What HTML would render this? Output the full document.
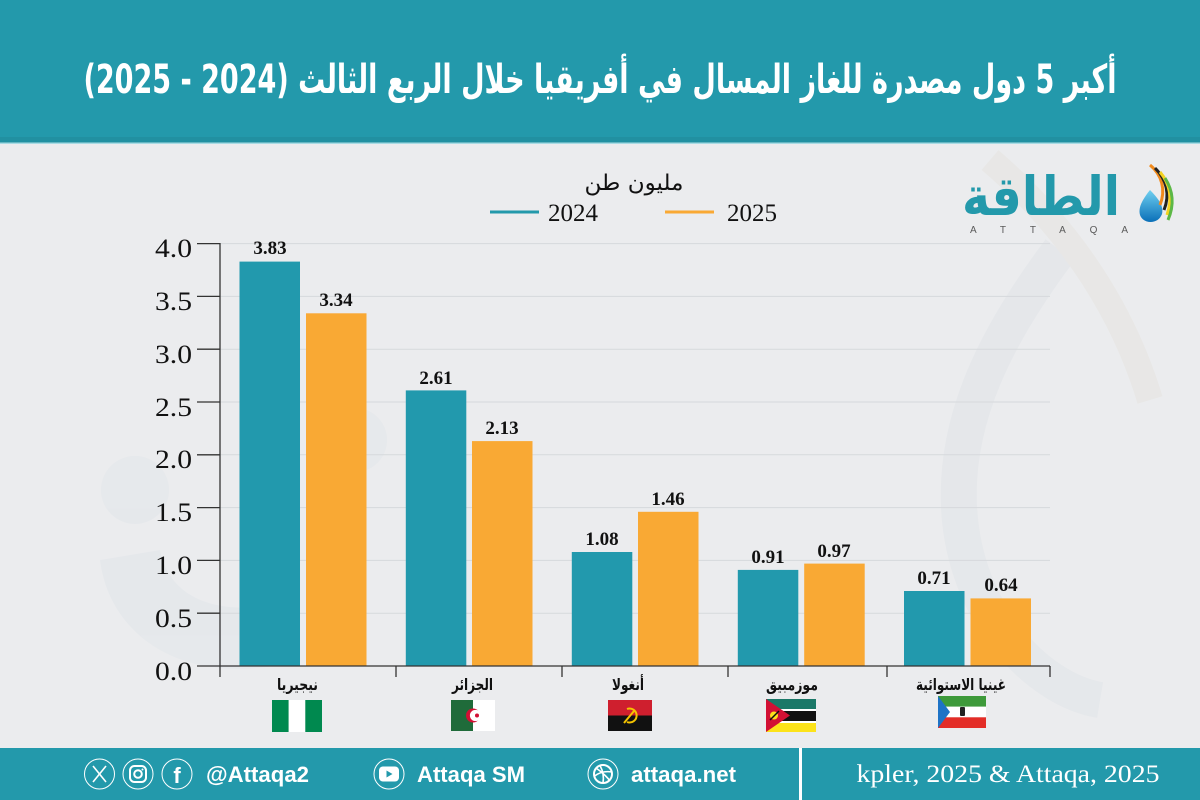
<!DOCTYPE html>
<html>
<head>
<meta charset="utf-8">
<style>
html,body{margin:0;padding:0;background:#ebecee;width:1200px;height:800px;overflow:hidden;}
svg{display:block;}
</style>
</head>
<body>
<svg width="1200" height="800" viewBox="0 0 1200 800" xmlns="http://www.w3.org/2000/svg" overflow="hidden">
  <defs>
    <linearGradient id="drop" x1="0" y1="0" x2="0" y2="1">
      <stop offset="0" stop-color="#6fd0f0"/>
      <stop offset="1" stop-color="#0a6fb8"/>
    </linearGradient>
  </defs>
  <!-- background -->
  <rect x="0" y="0" width="1200" height="800" fill="#ebecee"/>

  <!-- watermark (faint shapes) -->
  <g opacity="0.5">
    <circle cx="135" cy="490" r="34" fill="#e1e5ea"/>
    <circle cx="355" cy="440" r="32" fill="#e1e5ea"/>
    <path d="M100 560 C 110 640, 190 690, 300 660 L 300 600 C 220 620, 170 600, 160 550 Z" fill="#e1e5ea"/>
    <path d="M1060 250 C 1000 330, 950 420, 960 520 C 970 620, 1040 690, 1100 700" fill="none" stroke="#e0e4e8" stroke-width="36"/>
    <path d="M990 160 C 1060 220, 1120 300, 1150 400" fill="none" stroke="#e6e4df" stroke-width="26"/>
  </g>

  <!-- title bar -->
  <rect x="0" y="0" width="1200" height="137" fill="#2399ab"/>
  <rect x="0" y="137" width="1200" height="5.5" fill="#2190a1"/>
  <rect x="0" y="142.5" width="1200" height="1.5" fill="#a9dbe4"/>
  <text x="600" y="93" font-family="DejaVu Sans, sans-serif" font-weight="bold" font-size="40" fill="#ffffff" direction="rtl" text-anchor="middle" textLength="1033" lengthAdjust="spacingAndGlyphs">أكبر 5 دول مصدرة للغاز المسال في أفريقيا خلال الربع الثالث (2024 - 2025)</text>

  <!-- logo -->
  <text x="1041" y="215" font-family="DejaVu Sans, sans-serif" font-weight="bold" font-size="54" fill="#2399ab" direction="rtl" text-anchor="middle" textLength="158" lengthAdjust="spacingAndGlyphs">الطاقة</text>
  <text x="970" y="233" font-family="Liberation Sans, sans-serif" font-size="10" fill="#5a5a5a" textLength="158" lengthAdjust="spacing">ATTAQA</text>
  <g>
    <path d="M1150 190 C 1142 200, 1138 208, 1140 215 C 1143 224, 1158 225, 1162 214 C 1164 206, 1158 198, 1150 190 Z" fill="url(#drop)"/>
    <path d="M1150 165 C 1162 175, 1166 190, 1160 205" fill="none" stroke="#f08a1c" stroke-width="3"/>
    <path d="M1155 168 C 1167 180, 1170 195, 1164 210" fill="none" stroke="#222" stroke-width="3"/>
    <path d="M1160 172 C 1171 185, 1172 200, 1167 215" fill="none" stroke="#f4d321" stroke-width="3"/>
    <path d="M1165 178 C 1174 192, 1174 206, 1168 220" fill="none" stroke="#5cb846" stroke-width="3"/>
  </g>

  <!-- legend -->
  <text x="634" y="190" font-family="DejaVu Sans, sans-serif" font-size="22" fill="#111" direction="rtl" text-anchor="middle" textLength="99" lengthAdjust="spacingAndGlyphs">مليون طن</text>
  <line x1="490" y1="212" x2="539" y2="212" stroke="#2399ab" stroke-width="3"/>
  <text x="548" y="221" font-family="Liberation Serif, serif" font-size="25" fill="#111">2024</text>
  <line x1="665" y1="212" x2="714" y2="212" stroke="#f9a934" stroke-width="3"/>
  <text x="727" y="221" font-family="Liberation Serif, serif" font-size="25" fill="#111">2025</text>

  <!-- gridlines -->
  <g stroke="#d6d9dc" stroke-width="1">
    <line x1="220" y1="243.6" x2="1050" y2="243.6"/>
    <line x1="220" y1="296.4" x2="1050" y2="296.4"/>
    <line x1="220" y1="349.2" x2="1050" y2="349.2"/>
    <line x1="220" y1="402" x2="1050" y2="402"/>
    <line x1="220" y1="454.8" x2="1050" y2="454.8"/>
    <line x1="220" y1="507.6" x2="1050" y2="507.6"/>
    <line x1="220" y1="560.4" x2="1050" y2="560.4"/>
    <line x1="220" y1="613.2" x2="1050" y2="613.2"/>
  </g>

  <!-- bars -->
  <g>
    <rect x="239.5" y="261.6" width="60.5" height="404.4" fill="#2299ad"/>
    <rect x="306" y="313.3" width="60.5" height="352.7" fill="#f9a934"/>
    <rect x="405.8" y="390.4" width="60.5" height="275.6" fill="#2299ad"/>
    <rect x="472" y="441.1" width="60.5" height="224.9" fill="#f9a934"/>
    <rect x="571.8" y="552" width="60.5" height="114" fill="#2299ad"/>
    <rect x="638" y="511.8" width="60.5" height="154.2" fill="#f9a934"/>
    <rect x="737.8" y="569.9" width="60.5" height="96.1" fill="#2299ad"/>
    <rect x="804.2" y="563.6" width="60.5" height="102.4" fill="#f9a934"/>
    <rect x="904" y="591" width="60.5" height="75" fill="#2299ad"/>
    <rect x="970.5" y="598.4" width="60.5" height="67.6" fill="#f9a934"/>
  </g>

  <!-- value labels -->
  <g font-family="Liberation Serif, serif" font-weight="bold" font-size="19" fill="#111" text-anchor="middle">
    <text x="270" y="254">3.83</text>
    <text x="336" y="306">3.34</text>
    <text x="436" y="384">2.61</text>
    <text x="502" y="434">2.13</text>
    <text x="602" y="545">1.08</text>
    <text x="668" y="505">1.46</text>
    <text x="768" y="563">0.91</text>
    <text x="834" y="557">0.97</text>
    <text x="934" y="584">0.71</text>
    <text x="1001" y="591">0.64</text>
  </g>

  <!-- axes -->
  <g stroke="#333" stroke-width="1.3">
    <line x1="220" y1="243" x2="220" y2="677"/>
    <line x1="197" y1="666" x2="1050" y2="666"/>
    <line x1="197" y1="243.6" x2="220" y2="243.6"/>
    <line x1="197" y1="296.4" x2="220" y2="296.4"/>
    <line x1="197" y1="349.2" x2="220" y2="349.2"/>
    <line x1="197" y1="402" x2="220" y2="402"/>
    <line x1="197" y1="454.8" x2="220" y2="454.8"/>
    <line x1="197" y1="507.6" x2="220" y2="507.6"/>
    <line x1="197" y1="560.4" x2="220" y2="560.4"/>
    <line x1="197" y1="613.2" x2="220" y2="613.2"/>
    <line x1="396" y1="666" x2="396" y2="677"/>
    <line x1="562" y1="666" x2="562" y2="677"/>
    <line x1="728" y1="666" x2="728" y2="677"/>
    <line x1="887" y1="666" x2="887" y2="677"/>
    <line x1="1050" y1="666" x2="1050" y2="677"/>
  </g>
  <g font-family="Liberation Serif, serif" font-size="26" fill="#111" text-anchor="end">
    <text x="192" y="257" textLength="37" lengthAdjust="spacingAndGlyphs">4.0</text>
    <text x="192" y="310" textLength="37" lengthAdjust="spacingAndGlyphs">3.5</text>
    <text x="192" y="363" textLength="37" lengthAdjust="spacingAndGlyphs">3.0</text>
    <text x="192" y="416" textLength="37" lengthAdjust="spacingAndGlyphs">2.5</text>
    <text x="192" y="468" textLength="37" lengthAdjust="spacingAndGlyphs">2.0</text>
    <text x="192" y="521" textLength="37" lengthAdjust="spacingAndGlyphs">1.5</text>
    <text x="192" y="574" textLength="37" lengthAdjust="spacingAndGlyphs">1.0</text>
    <text x="192" y="627" textLength="37" lengthAdjust="spacingAndGlyphs">0.5</text>
    <text x="192" y="680" textLength="37" lengthAdjust="spacingAndGlyphs">0.0</text>
  </g>

  <!-- category labels -->
  <g font-family="DejaVu Sans, sans-serif" font-weight="bold" font-size="16" fill="#111" text-anchor="middle" direction="rtl">
    <text x="297.5" y="690" textLength="41" lengthAdjust="spacingAndGlyphs">نيجيريا</text>
    <text x="472.5" y="690" textLength="41" lengthAdjust="spacingAndGlyphs">الجزائر</text>
    <text x="628" y="690" textLength="32" lengthAdjust="spacingAndGlyphs">أنغولا</text>
    <text x="792" y="690" textLength="52" lengthAdjust="spacingAndGlyphs">موزمبيق</text>
    <text x="961" y="690" textLength="90" lengthAdjust="spacingAndGlyphs">غينيا الاستوائية</text>
  </g>

  <!-- flags -->
  <!-- Nigeria -->
  <rect x="272" y="700" width="16.7" height="32" fill="#00894f"/>
  <rect x="288.7" y="700" width="16.6" height="32" fill="#ffffff"/>
  <rect x="305.3" y="700" width="16.7" height="32" fill="#00894f"/>
  <!-- Algeria -->
  <rect x="451" y="700" width="22" height="31" fill="#1f6b3a"/>
  <rect x="473" y="700" width="22" height="31" fill="#ffffff"/>
  <circle cx="473" cy="715.5" r="7" fill="#d21034"/>
  <circle cx="475.5" cy="715.5" r="5.6" fill="#ffffff"/>
  <circle cx="477" cy="715.5" r="2" fill="#d21034"/>
  <!-- Angola -->
  <rect x="608" y="700" width="44" height="15.5" fill="#cf1f2e"/>
  <rect x="608" y="715.5" width="44" height="15.5" fill="#111111"/>
  <path d="M627 709 a7 7 0 1 1 0 13" fill="none" stroke="#f5c400" stroke-width="2"/>
  <line x1="624" y1="723" x2="634" y2="711" stroke="#f5c400" stroke-width="2"/>
  <!-- Mozambique -->
  <rect x="766" y="699" width="50" height="10" fill="#1b7868"/>
  <rect x="766" y="709" width="50" height="2" fill="#ffffff"/>
  <rect x="766" y="711" width="50" height="10" fill="#111111"/>
  <rect x="766" y="721" width="50" height="2" fill="#ffffff"/>
  <rect x="766" y="723" width="50" height="9" fill="#fce31a"/>
  <polygon points="766,699 790,715.5 766,732" fill="#d21034"/>
  <circle cx="774" cy="715.5" r="4" fill="#fce31a"/>
  <line x1="770" y1="720" x2="779" y2="711" stroke="#111" stroke-width="1.5"/>
  <!-- Equatorial Guinea -->
  <rect x="938" y="696" width="48" height="10.7" fill="#3e9a3a"/>
  <rect x="938" y="706.7" width="48" height="10.6" fill="#ffffff"/>
  <rect x="938" y="717.3" width="48" height="10.7" fill="#e32d27"/>
  <polygon points="938,696 950,712 938,728" fill="#1e73c6"/>
  <rect x="960" y="707" width="5" height="9" rx="1" fill="#222"/>

  <!-- footer -->
  <rect x="0" y="748" width="1200" height="52" fill="#2399ab"/>
  <rect x="799" y="748" width="3" height="52" fill="#ffffff"/>
  <text x="1008" y="782" font-family="Liberation Serif, serif" font-size="25" fill="#ffffff" text-anchor="middle" textLength="303" lengthAdjust="spacingAndGlyphs">kpler, 2025 &amp; Attaqa, 2025</text>

  <g fill="none" stroke="#ffffff" stroke-width="1">
    <circle cx="99.5" cy="774" r="15"/>
    <circle cx="138" cy="774" r="15"/>
    <circle cx="177" cy="774" r="15"/>
    <circle cx="389" cy="774" r="15"/>
    <circle cx="603" cy="774" r="15"/>
  </g>
  <!-- X icon -->
  <g stroke="#ffffff" stroke-width="1.6" fill="none">
    <line x1="93" y1="766" x2="106" y2="782"/>
    <line x1="106" y1="766" x2="93" y2="782"/>
  </g>
  <!-- instagram -->
  <rect x="130" y="766" width="16" height="16" rx="4.5" fill="none" stroke="#ffffff" stroke-width="2"/>
  <circle cx="138" cy="774" r="3.8" fill="none" stroke="#ffffff" stroke-width="2"/>
  <circle cx="142.5" cy="769.5" r="1" fill="#ffffff"/>
  <!-- facebook -->
  <text x="177" y="783" font-family="Liberation Sans, sans-serif" font-weight="bold" font-size="22" fill="#ffffff" text-anchor="middle">f</text>
  <!-- youtube -->
  <rect x="379" y="766.5" width="20" height="15" rx="4" fill="#ffffff"/>
  <polygon points="386.5,770.5 386.5,777.5 392.5,774" fill="#2399ab"/>
  <!-- globe -->
  <circle cx="603" cy="774" r="9" fill="none" stroke="#ffffff" stroke-width="2"/>
  <path d="M596 768 C 602 772, 608 778, 610 781 M594.5 776 C 600 772, 606 771, 612 772 M600 765.5 C 603 771, 604 777, 603 783" fill="none" stroke="#ffffff" stroke-width="1.6"/>

  <g font-family="Liberation Sans, sans-serif" font-weight="bold" font-size="22" fill="#ffffff">
    <text x="206" y="782" textLength="103" lengthAdjust="spacingAndGlyphs">@Attaqa2</text>
    <text x="417" y="782" textLength="108" lengthAdjust="spacingAndGlyphs">Attaqa SM</text>
    <text x="631" y="782" textLength="105" lengthAdjust="spacingAndGlyphs">attaqa.net</text>
  </g>
</svg>
</body>
</html>
